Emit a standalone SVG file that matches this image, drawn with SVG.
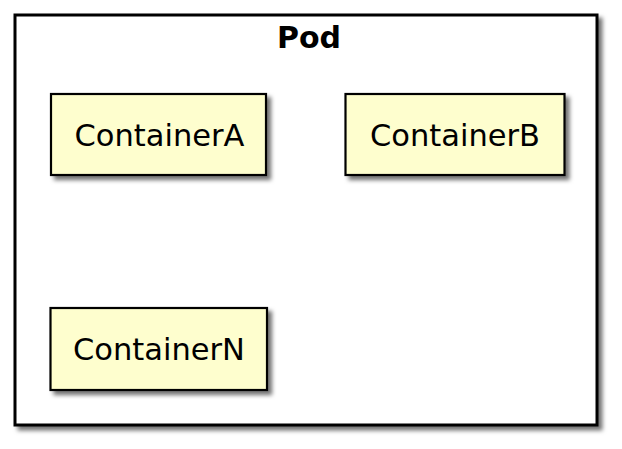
<svg xmlns="http://www.w3.org/2000/svg" width="622" height="449" viewBox="0 0 622 449">
<defs>
<filter id="sh" x="-10%" y="-10%" width="130%" height="130%">
<feGaussianBlur in="SourceAlpha" stdDeviation="2"/>
<feOffset dx="4" dy="4" result="b"/>
<feColorMatrix in="b" type="matrix" values="0 0 0 0 0  0 0 0 0 0  0 0 0 0 0  0 0 0 0.55 0"/>
<feMerge><feMergeNode/><feMergeNode in="SourceGraphic"/></feMerge>
</filter>
</defs>
<style>
.pod{fill:#FFFFFF;stroke:#000;stroke-width:3}
.box{fill:#FEFECE;stroke:#000;stroke-width:2.2}
.lbl{font-family:"DejaVu Sans",sans-serif;font-size:30.5px;fill:#000;text-anchor:middle}
.ttl{font-family:"DejaVu Sans",sans-serif;font-size:30px;font-weight:bold;fill:#000;text-anchor:middle}
</style>
<rect width="622" height="449" fill="#FFFFFF"/>
<g id="Pod">
<rect class="pod" x="15" y="15" width="582" height="410" filter="url(#sh)"/>
<text class="ttl" x="309" y="48">Pod</text>
</g>
<g id="ContainerA">
<rect class="box" x="51" y="94" width="215" height="81" filter="url(#sh)"/>
<text class="lbl" x="159.5" y="145.7">ContainerA</text>
</g>
<g id="ContainerB">
<rect class="box" x="345.5" y="94" width="219" height="81" filter="url(#sh)"/>
<text class="lbl" x="455" y="145.7">ContainerB</text>
</g>
<g id="ContainerN">
<rect class="box" x="50.5" y="308" width="216.5" height="82" filter="url(#sh)"/>
<text class="lbl" x="159" y="360">ContainerN</text>
</g>
<g id="connectors"></g>
</svg>
